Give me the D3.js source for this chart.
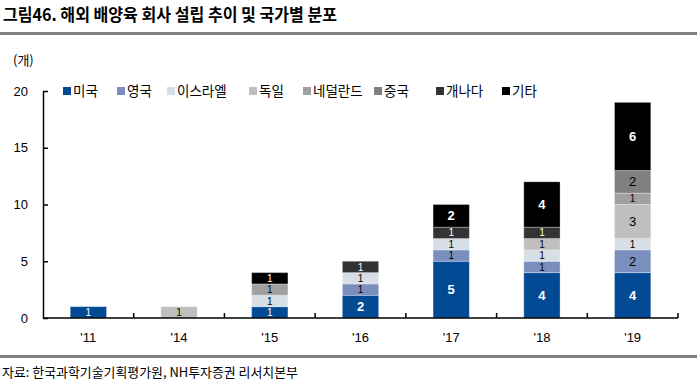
<!DOCTYPE html>
<html><head><meta charset="utf-8">
<script src="https://cdn.jsdelivr.net/npm/d3@7"></script>
<style>body{margin:0;background:#fff}svg{display:block}</style>
</head><body>
<script>
const years = ["'11","'14","'15","'16","'17","'18","'19"];
const countries = ["미국","영국","이스라엘","독일","네덜란드","중국","개나다","기타"];
const usa     = [1,0,1,2,5,4,4];
const uk      = [0,0,0,1,1,1,2];
const israel  = [0,0,1,1,1,1,1];
const germany = [0,1,0,0,0,1,3];
const nether  = [0,0,1,0,0,0,1];
const china   = [0,0,0,0,0,0,2];
const canada  = [0,0,0,1,1,1,0];
const others  = [0,0,1,0,2,4,6];
const yTicks = [0,5,10,15,20];

const seriesVals = [usa,uk,israel,germany,nether,china,canada,others];
const colors = ["#034a94","#7b8fbf","#d7dee6","#bfbfbf","#a0a0a0","#808080","#333333","#000000"];
const labelColors = ["#fff","#000","#000","#000","#000","#000","#fff","#fff"];

const W=697,H=382;
const svg=d3.select("body").append("svg").attr("width",W).attr("height",H);
const KR="'Noto Sans CJK KR', 'Noto Sans', sans-serif";
const AR="'Liberation Sans', Arial, sans-serif";

// title
svg.append("text").attr("x",3).attr("y",21).attr("font-family",KR).attr("font-weight","bold")
  .attr("font-size",17).attr("textLength",334).attr("lengthAdjust","spacingAndGlyphs")
  .text("그림46. 해외 배양육 회사 설립 추이 및 국가별 분포");
svg.append("rect").attr("x",0).attr("y",32).attr("width",W).attr("height",3).attr("fill","#808080");
svg.append("rect").attr("x",0).attr("y",355).attr("width",W).attr("height",3).attr("fill","#808080");
svg.append("text").attr("x",2).attr("y",377).attr("font-family",KR).attr("font-size",13)
  .attr("textLength",296).attr("lengthAdjust","spacingAndGlyphs")
  .text("자료: 한국과학기술기획평가원, NH투자증권 리서치본부");

const x=d3.scaleBand().domain(years).range([43,678]).paddingInner(0.6).paddingOuter(0.3);
const y=d3.scaleLinear().domain([0,20]).range([318,91]);

// data table
const table = years.map((yr,i)=>{const o={year:yr};countries.forEach((c,k)=>o[c]=seriesVals[k][i]);return o;});
const stacked=d3.stack().keys(countries)(table);

const g=svg.append("g");
stacked.forEach((s,k)=>{
  const segs=s.filter(d=>d[1]-d[0]>0);
  g.selectAll(null).data(segs).enter().append("rect")
   .attr("x",d=>x(d.data.year)).attr("width",x.bandwidth())
   .attr("y",d=>y(d[1])).attr("height",d=>y(d[0])-y(d[1]))
   .attr("fill",colors[k]).attr("stroke","#ffffff").attr("stroke-opacity",0.3).attr("stroke-width",1);
  g.selectAll(null).data(segs).enter().append("text")
   .attr("x",d=>x(d.data.year)+x.bandwidth()/2)
   .attr("y",d=>{const v=d[1]-d[0];return (y(d[0])+y(d[1]))/2+(v>1?4.5:3.6);})
   .attr("text-anchor","middle").attr("font-family",AR)
   .attr("font-size",d=>(d[1]-d[0])>1?13:10)
   .attr("font-weight",d=>((d[1]-d[0])>1 && labelColors[k]==="#fff")?"bold":"normal")
   .attr("fill",labelColors[k]).text(d=>d[1]-d[0]);
});

// y axis
const ya=svg.append("g").attr("transform","translate(43,0)")
  .call(d3.axisLeft(y).tickValues(yTicks).tickSize(-5).tickPadding(15).tickSizeOuter(0));
ya.select(".domain").attr("stroke","#000").attr("stroke-width",1.5);
ya.selectAll(".tick line").attr("stroke","#000").attr("stroke-width",1.5);
ya.selectAll("text").attr("font-family",AR).attr("font-size",13).attr("fill","#000");

// x axis
svg.append("line").attr("x1",43).attr("x2",678).attr("y1",318).attr("y2",318).attr("stroke","#000").attr("stroke-width",1.5);
const step=x.step();
years.forEach((yr,i)=>{
  const tx=x(yr)+x.bandwidth()/2+step/2;
  svg.append("line").attr("x1",tx).attr("x2",tx).attr("y1",318).attr("y2",313).attr("stroke","#000").attr("stroke-width",1.5);
});
svg.append("g").selectAll("text").data(years).enter().append("text")
  .attr("x",d=>x(d)+x.bandwidth()/2).attr("y",342).attr("text-anchor","middle")
  .attr("font-family",AR).attr("font-size",13).text(d=>d);

svg.append("text").attr("x",13).attr("y",65).attr("font-family",KR).attr("font-size",13).text("(개)");

// legend
const legX=[63,117,167,249,303,374,436,502];
countries.forEach((c,k)=>{
  svg.append("rect").attr("x",legX[k]).attr("y",87).attr("width",8).attr("height",8).attr("fill",colors[k]);
  svg.append("text").attr("x",legX[k]+10).attr("y",96).attr("font-family",KR).attr("font-size",13.5).text(c);
});
</script>
</body></html>
